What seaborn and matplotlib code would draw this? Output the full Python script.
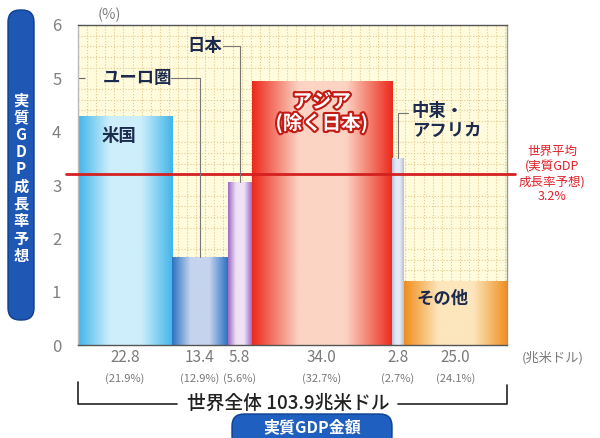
import numpy as np
import matplotlib
matplotlib.use("Agg")
import matplotlib.pyplot as plt
import matplotlib.patheffects as pe
from matplotlib.colors import LinearSegmentedColormap
from matplotlib.patches import FancyBboxPatch
from matplotlib.transforms import IdentityTransform
import seaborn as sns

# data
regions = ["米国", "ユーロ圏", "日本", "アジア\n(除く日本)", "中東・\nアフリカ", "その他"]
gdp = [22.8, 13.4, 5.8, 34.0, 2.8, 25.0]          # 兆米ドル (bar width)
gdp_share = ["(21.9%)", "(12.9%)", "(5.6%)", "(32.7%)", "(2.7%)", "(24.1%)"]
growth = [4.3, 1.65, 3.05, 4.95, 3.5, 1.2]          # % (bar height)
world_avg = 3.2
world_total = 103.9

edge_cols = ["#42b6ea", "#2c72c2", "#9c6ac2", "#ec2a1c", "#b4c0da", "#f08e1e"]
mid_cols = ["#cdeefb", "#c6d4ee", "#f0e2f6", "#fcd4c4", "#e6eaf4", "#fde6bc"]

sns.set_theme(style="white")
plt.rcParams["font.family"] = ["Noto Sans CJK JP", "DejaVu Sans"]

fig = plt.figure(figsize=(6, 4.38), dpi=100)
ax = fig.add_axes([0.13, 0.212, 0.715, 0.731])
ax.set_facecolor("#fffbdc")

lefts = np.concatenate([[0], np.cumsum(gdp)[:-1]])
centers = lefts + np.array(gdp) / 2
bars = ax.bar(lefts, growth, width=gdp, align="edge", color="none",
              edgecolor="none", zorder=2)

# horizontal gradient in every bar
for bar, c0, c1 in zip(bars, edge_cols, mid_cols):
    cmap = LinearSegmentedColormap.from_list("g", [c0, c1, c1, c0])
    grad = np.linspace(0, 1, 200).reshape(1, -1)
    x0, w, h = bar.get_x(), bar.get_width(), bar.get_height()
    im = ax.imshow(grad, cmap=cmap, extent=(x0, x0 + w, 0, h),
                   aspect="auto", zorder=2, interpolation="bicubic")
    im.set_clip_path(bar)

ax.set_xlim(0, sum(gdp))
ax.set_ylim(0, 6)
ax.set_yticks(range(7))
ax.set_xticks([])
ax.tick_params(axis="y", direction="in", length=5, width=0.8, color="#666666",
               labelsize=12, labelcolor="#808080", pad=12, left=True)
ax.minorticks_on()
ax.set_xticks(np.arange(0, sum(gdp), 2.2), minor=True)
ax.set_yticks(np.arange(0, 6, 0.2), minor=True)
ax.tick_params(which="minor", length=0)
ax.grid(which="minor", color="#e6c98c", linestyle=":", linewidth=0.8, zorder=1)
ax.set_axisbelow(True)
for side, sp in ax.spines.items():
    sp.set_visible(True)
    sp.set_color("#555555")
    sp.set_linewidth(1.0)
ax.spines["left"].set_color("#bbbbbb")
ax.spines["right"].set_color("#999999")

# world average line
ax.plot([-3, sum(gdp) + 2], [world_avg, world_avg], color="#d42020",
        lw=2, zorder=4, clip_on=False)
ax.text(0.045, 1.03, "(%)", transform=ax.transAxes, fontsize=10.5,
        color="#808080", va="center")

lab_kw = dict(fontsize=12.5, fontweight="bold", color="#1c2a4e", zorder=5)
lead_kw = dict(color="#777777", lw=0.8, zorder=5)
# 米国
ax.text(centers[0] - 1.5, growth[0] - 0.38, regions[0], ha="center", va="center", **lab_kw)
# ユーロ圏 with leader
ax.text(lefts[1] - 8.5, 5.0, regions[1], ha="center", va="center", **lab_kw)
ax.plot([lefts[1] - 0.3, centers[1]], [5.0, 5.0], **lead_kw)
ax.plot([centers[1], centers[1]], [5.0, growth[1]], **lead_kw)
# 日本 with leader
ax.text(lefts[2] - 5.5, 5.6, regions[2], ha="center", va="center", **lab_kw)
ax.plot([lefts[2] - 1.2, centers[2]], [5.6, 5.6], **lead_kw)
ax.plot([centers[2], centers[2]], [5.6, growth[2]], **lead_kw)
# アジア
ax.text(centers[3], 4.35, regions[3], ha="center", va="center", fontsize=14,
        fontweight="bold", color="white", linespacing=1.05, zorder=5,
        path_effects=[pe.withStroke(linewidth=3, foreground="#c41a14")])
# 中東・アフリカ with leader
ax.text(lefts[4] + 4.8, 4.2, regions[4], ha="left", va="center",
        linespacing=1.2, **lab_kw)
ax.plot([centers[4], centers[4] + 2.5], [4.35, 4.35], **lead_kw)
ax.plot([centers[4], centers[4]], [4.35, growth[4]], **lead_kw)
# その他
ax.text(centers[5] - 3, growth[5] - 0.33, regions[5], ha="center", va="center", **lab_kw)

# world average label
ax.text(1.105, world_avg, "世界平均\n(実質GDP\n成長率予想)\n%.1f%%" % world_avg,
        transform=ax.get_yaxis_transform(), ha="center", va="center",
        fontsize=9, color="#e02028", linespacing=1.2, clip_on=False)

# GDP values under the bars
xt = ax.get_xaxis_transform()
for c, v, s in zip(centers, gdp, gdp_share):
    ax.text(c, -0.04, "%.1f" % v, transform=xt, ha="center", va="center",
            fontsize=11, color="#7a7a7a", clip_on=False)
    ax.text(c, -0.105, s, transform=xt, ha="center", va="center",
            fontsize=8, color="#7a7a7a", clip_on=False)
ax.text(1.035, -0.04, "(兆米ドル)", transform=ax.transAxes, ha="left",
        va="center", fontsize=9.5, color="#7a7a7a", clip_on=False)

# bracket for world total
total_x = sum(gdp) / 2 - 1.0
ax.text(total_x, -0.183, "世界全体 %.1f兆米ドル" % world_total, transform=xt,
        ha="center", va="center", fontsize=13.5, fontweight="medium",
        color="#222222", clip_on=False)
ax.plot([0, 0, 24], [-0.115, -0.183, -0.183], transform=xt, color="#222222",
        lw=1.2, clip_on=False)
ax.plot([77.5, sum(gdp), sum(gdp)], [-0.183, -0.183, -0.125], transform=xt,
        color="#222222", lw=1.2, clip_on=False)

# blue pills (pixel coords)
H = 438
pill_bottom = FancyBboxPatch((232, H - 448), 160, 34, transform=IdentityTransform(),
                             boxstyle="round,pad=0,rounding_size=12",
                             fc="#1f5fbf", ec="#0f3f8f", lw=1, zorder=3)
fig.patches.append(pill_bottom)
fig.text(312 / 600, 1 - 427 / H, "実質GDP金額", ha="center", va="center",
         fontsize=11.5, fontweight="bold", color="white")

pill_left = FancyBboxPatch((8, H - 320), 26, 310, transform=IdentityTransform(),
                           boxstyle="round,pad=0,rounding_size=12",
                           fc="#1f57b5", ec="#0f3f8f", lw=1, zorder=3)
fig.patches.append(pill_left)
fig.text(21 / 600, 1 - 178 / H, "\n".join("実質GDP成長率予想"), ha="center",
         va="center", fontsize=11, fontweight="bold", color="white",
         linespacing=1.1)

fig.savefig("out.png", dpi=100)
